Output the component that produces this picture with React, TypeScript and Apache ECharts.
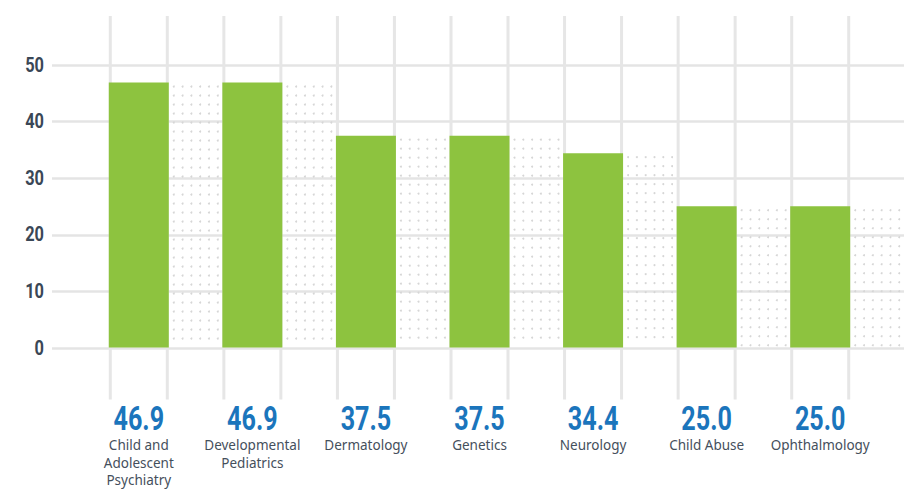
import React, { useEffect, useRef } from "react";
import * as echarts from "echarts";

const categories = [
  "Child and\nAdolescent\nPsychiatry",
  "Developmental\nPediatrics",
  "Dermatology",
  "Genetics",
  "Neurology",
  "Child Abuse",
  "Ophthalmology",
];
const values = [46.9, 46.9, 37.5, 37.5, 34.4, 25.0, 25.0];
const yMin = 0;
const yMax = 50;
const yInterval = 10;

const BOLD_FONT = 'Roboto, "Liberation Sans", sans-serif';
const BAR_W = 60;

export default function App() {
  const ref = useRef<HTMLDivElement>(null);
  useEffect(() => {
    if (!ref.current) return;
    const chart = echarts.init(ref.current, undefined, { renderer: "svg" });
    const pts = values.map((v, i) => [i, v]);
    chart.setOption({
      animation: false,
      backgroundColor: "#ffffff",
      grid: [
        { left: 52, right: 0, top: 65, bottom: 141 },
        { left: 82, right: 27, top: 65, bottom: 141 },
      ],
      xAxis: [
        { gridIndex: 0, type: "value", show: false },
        {
          gridIndex: 1,
          type: "category",
          data: categories,
          axisLine: { show: false },
          axisTick: { show: false },
          axisLabel: {
            interval: 0,
            margin: 89,
            fontFamily: '"Noto Sans", "Open Sans", sans-serif',
            fontSize: 13.5,
            color: "#454f5c",
            lineHeight: 17.5,
          },
        },
      ],
      yAxis: [
        {
          gridIndex: 0,
          type: "value",
          min: yMin,
          max: yMax,
          interval: yInterval,
          axisLine: { show: false },
          axisTick: { show: false },
          splitLine: { lineStyle: { color: "#e4e4e4", width: 2.5 } },
          axisLabel: { show: false },
        },
        { gridIndex: 1, type: "value", min: yMin, max: yMax, interval: yInterval, show: false },
      ],
      series: [
        {
          // vertical guide lines at the bar edges
          type: "custom",
          xAxisIndex: 1,
          yAxisIndex: 1,
          z: 1,
          silent: true,
          clip: false,
          data: pts,
          renderItem: (params: any, api: any) => {
            const idx = api.value(0);
            const base = api.coord([idx, 0]);
            const x = base[0];
            const style = { stroke: "#e6e6e6", lineWidth: 3 };
            return {
              type: "group",
              children: [
                { type: "line", shape: { x1: x - 28.5, y1: 16, x2: x - 28.5, y2: base[1] + 52 }, style },
                { type: "line", shape: { x1: x + 28.5, y1: 16, x2: x + 28.5, y2: base[1] + 52 }, style },
              ],
            };
          },
        },
        {
          // y axis tick labels, condensed
          type: "custom",
          xAxisIndex: 0,
          yAxisIndex: 0,
          z: 5,
          silent: true,
          clip: false,
          data: [0, 10, 20, 30, 40, 50].map((t) => [0, t]),
          renderItem: (params: any, api: any) => {
            const t = api.value(1);
            const p = api.coord([0, t]);
            return {
              type: "text",
              x: p[0] - 8,
              y: p[1],
              scaleX: 0.78,
              style: {
                text: String(t),
                fontFamily: BOLD_FONT,
                fontWeight: "bold",
                fontSize: 21,
                fill: "#3a4756",
                align: "right",
                verticalAlign: "middle",
              },
            };
          },
        },
        {
          // dotted shadow to the right of each bar
          type: "custom",
          xAxisIndex: 1,
          yAxisIndex: 1,
          z: 3,
          silent: true,
          clip: false,
          data: pts,
          renderItem: (params: any, api: any) => {
            const idx = api.value(0);
            const val = api.value(1);
            const top = api.coord([idx, val]);
            const base = api.coord([idx, 0]);
            const band = api.size([1, 0])[0];
            const x0 = top[0] + BAR_W / 2;
            const x1 = top[0] + band - BAR_W / 2;
            const children: any[] = [];
            for (let cx = x0 + 5; cx < x1 - 1; cx += 8.8) {
              for (let cy = top[1] + 4; cy < base[1] - 2; cy += 9) {
                children.push({
                  type: "circle",
                  shape: { cx, cy, r: 1 },
                  style: { fill: "#d6d6d6" },
                });
              }
            }
            return { type: "group", children };
          },
        },
        {
          type: "bar",
          xAxisIndex: 1,
          yAxisIndex: 1,
          z: 4,
          barWidth: BAR_W,
          data: values,
          itemStyle: { color: "#8DC33F" },
        },
        {
          // big blue value labels under the axis
          type: "custom",
          xAxisIndex: 1,
          yAxisIndex: 1,
          z: 5,
          silent: true,
          clip: false,
          data: pts,
          renderItem: (params: any, api: any) => {
            const idx = api.value(0);
            const val = api.value(1);
            const base = api.coord([idx, 0]);
            return {
              type: "text",
              x: base[0],
              y: base[1] + 71,
              scaleX: 0.74,
              style: {
                text: val.toFixed(1),
                fontFamily: BOLD_FONT,
                fontWeight: "bold",
                fontSize: 34,
                fill: "#1B75BC",
                align: "center",
                verticalAlign: "middle",
              },
            };
          },
        },
      ],
    });
    return () => chart.dispose();
  }, []);
  return (
    <div
      ref={ref}
      style={{ position: "absolute", left: 0, top: 0, width: 904, height: 489 }}
    />
  );
}
